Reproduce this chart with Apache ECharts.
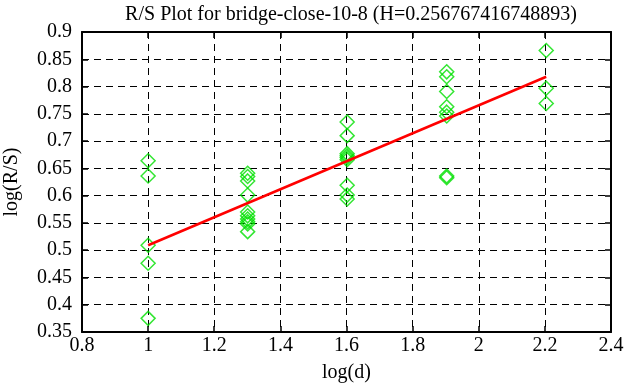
<!DOCTYPE html>
<html>
<head>
<meta charset="utf-8">
<script src="https://cdn.jsdelivr.net/npm/echarts@6/dist/echarts.min.js"></script>
<style>html,body{margin:0;padding:0;background:#fff;}#c{width:626px;height:387px;}</style>
</head>
<body>
<div id="c"></div>
<script>
var titleText = 'R/S Plot for bridge-close-10-8 (H=0.256767416748893)';
var logD = [1, 1.30103, 1.60206, 1.90309, 2.20412];
var rsAt10 = [0.664, 0.636, 0.509, 0.476, 0.375];
var rsAt20 = [0.641, 0.635, 0.627, 0.601, 0.570, 0.563, 0.557, 0.552, 0.548, 0.534];
var rsAt40 = [0.735, 0.710, 0.677, 0.673, 0.670, 0.666, 0.619, 0.601, 0.594];
var rsAt80 = [0.827, 0.818, 0.791, 0.763, 0.753, 0.746, 0.636, 0.633];
var rsAt160 = [0.866, 0.797, 0.769];
var fitX = [1, 2.20412];
var fitY = [0.509, 0.818];
var xTicks = [0.8, 1, 1.2, 1.4, 1.6, 1.8, 2, 2.2, 2.4];
var yTicks = [0.35, 0.4, 0.45, 0.5, 0.55, 0.6, 0.65, 0.7, 0.75, 0.8, 0.85, 0.9];

var groups = [rsAt10, rsAt20, rsAt40, rsAt80, rsAt160];
var pts = [];
groups.forEach(function (g, i) { g.forEach(function (v) { pts.push([logD[i], v]); }); });
var fitData = fitX.map(function (x, i) { return [x, fitY[i]]; });

var font = 'Liberation Serif';
var chart = echarts.init(document.getElementById('c'));
var fmtX = function (v) { return String(+v.toFixed(1)); };
var fmtY = function (v) { return String(+v.toFixed(2)); };
chart.setOption({
  animation: false,
  backgroundColor: '#fff',
  title: {
    text: titleText, left: 346, top: 0, textAlign: 'center',
    textStyle: { fontFamily: font, fontSize: 20, fontWeight: 'normal', color: '#000' }
  },
  grid: { left: 82, right: 15, top: 32, bottom: 55, outerBoundsMode: 'none', containLabel: false },
  xAxis: [{
    type: 'value', min: 0.8, max: 2.4, interval: 0.2,
    name: 'log(d)', nameLocation: 'middle', nameGap: 31,
    nameTextStyle: { fontFamily: font, fontSize: 20, color: '#000' },
    axisLine: { show: true, onZero: false, lineStyle: { color: '#000', width: 2 } },
    axisTick: { show: true, inside: true, length: 6, lineStyle: { color: '#000', width: 1.5 } },
    axisLabel: { fontFamily: font, fontSize: 20, color: '#000', margin: 4, formatter: fmtX },
    splitLine: { show: true, lineStyle: { color: '#000', width: 1, type: [7, 5] } }
  }, {
    type: 'value', position: 'top', min: 0.8, max: 2.4, interval: 0.2,
    axisLine: { show: true, onZero: false, lineStyle: { color: '#000', width: 2 } },
    axisTick: { show: true, inside: true, length: 6, lineStyle: { color: '#000', width: 1.5 } },
    axisLabel: { show: false }, splitLine: { show: false }
  }],
  yAxis: [{
    type: 'value', min: 0.35, max: 0.9, interval: 0.05,
    name: 'log(R/S)', nameLocation: 'middle', nameGap: 60,
    nameTextStyle: { fontFamily: font, fontSize: 20, color: '#000' },
    axisLine: { show: true, onZero: false, lineStyle: { color: '#000', width: 2 } },
    axisTick: { show: true, inside: true, length: 6, lineStyle: { color: '#000', width: 1.5 } },
    axisLabel: { fontFamily: font, fontSize: 20, color: '#000', margin: 10, formatter: fmtY },
    splitLine: { show: true, lineStyle: { color: '#000', width: 1, type: [7, 5] } }
  }, {
    type: 'value', position: 'right', min: 0.35, max: 0.9, interval: 0.05,
    axisLine: { show: true, onZero: false, lineStyle: { color: '#000', width: 2 } },
    axisTick: { show: true, inside: true, length: 6, lineStyle: { color: '#000', width: 1.5 } },
    axisLabel: { show: false }, splitLine: { show: false }
  }],
  series: [{
    type: 'scatter', data: pts, symbol: 'diamond', symbolSize: [14, 14],
    itemStyle: { color: 'rgba(0,0,0,0)', borderColor: '#00e000', borderWidth: 1.5 },
    z: 3
  }, {
    type: 'line', data: fitData, showSymbol: false, symbol: 'none',
    lineStyle: { color: '#ff0000', width: 2.5 }, z: 4
  }]
});
</script>
</body>
</html>
